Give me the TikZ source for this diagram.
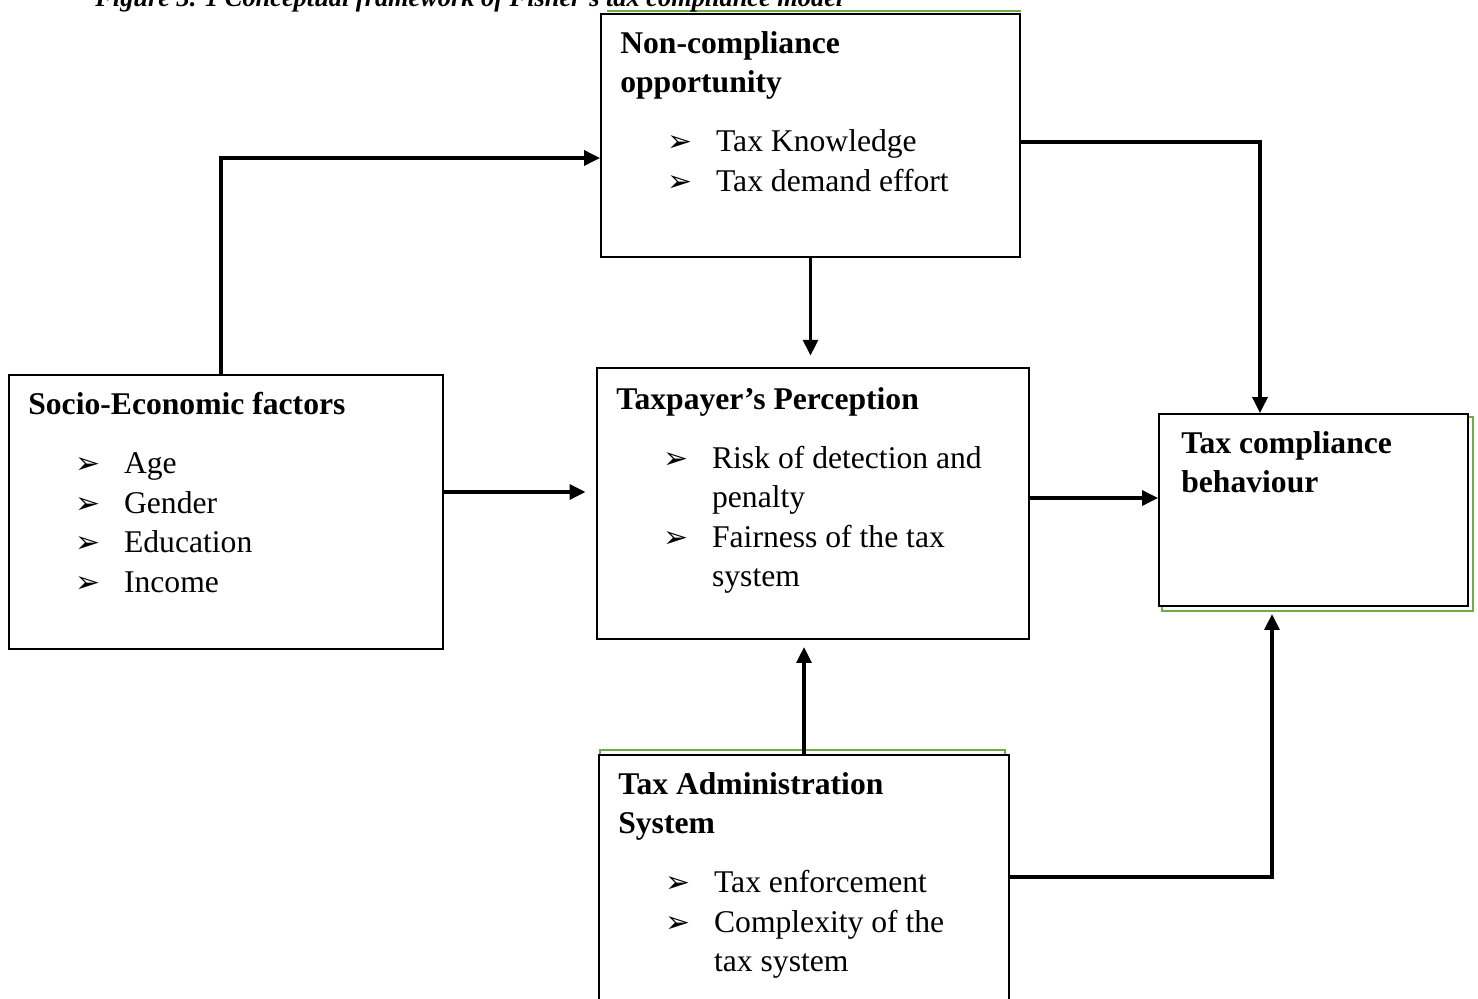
\documentclass[tikz,border=0pt]{standalone}
\usepackage{fontspec}
\setmainfont{Liberation Serif}
\newfontfamily\fcsym{DejaVu Sans}
\usetikzlibrary{arrows.meta,backgrounds}
\definecolor{fcgreen}{RGB}{112,173,71}
\newcommand\fcbul{{\fcsym\fontsize{17}{17}\selectfont ➢}}
\newcommand\fcitem[1]{\hspace*{27pt}\makebox[27.5pt][l]{\fcbul}#1}
\newcommand\fccont[1]{\hspace*{54.5pt}#1}
\tikzset{
  fcbox/.style={draw=black, line width=1.2pt, fill=white, inner sep=0pt, anchor=north west},
  fctext/.style={font=\fontsize{18}{22.5}\selectfont, align=left, inner sep=0pt,
    anchor=north west, xshift=0.4cm, yshift=-0.36cm},
  fcarrow/.style={-{Triangle[length=9pt,width=8.5pt]}, line width=1.8pt, draw=black},
  fcshadow/.style={draw=fcgreen, line width=1.2pt}
}
\begin{document}
\begin{tikzpicture}[x=0.02cm, y=-0.02cm]
  \useasboundingbox (0,0) rectangle (1478,998);
  \clip (0,0) rectangle (1478,998);
  \node[font=\fontsize{15}{18}\selectfont\bfseries\itshape, anchor=base west, inner sep=0pt] (title) at (95,6) {Figure 3. 1 Conceptual framework of Fisher’s tax compliance model};
  \node[fcbox, minimum width=8.68cm, minimum height=5.48cm] (se) at (8,374) {};
  \node[fcbox, minimum width=8.38cm, minimum height=4.86cm] (nc) at (600,13) {};
  \node[fcbox, minimum width=8.64cm, minimum height=5.42cm] (tp) at (596,367) {};
  \node[fcbox, minimum width=6.18cm, minimum height=3.84cm] (tc) at (1158,413) {};
  \node[fcbox, minimum width=8.2cm, minimum height=5.2cm] (ta) at (598,754) {};
  \node[fctext] (setext) at (se.north west) {\textbf{Socio-Economic factors}\\[11pt]
    \fcitem{Age}\\ \fcitem{Gender}\\ \fcitem{Education}\\ \fcitem{Income}};
  \node[fctext] (nctext) at (nc.north west) {\textbf{Non-compliance}\\ \textbf{opportunity}\\[11pt]
    \fcitem{Tax Knowledge}\\ \fcitem{Tax demand effort}};
  \node[fctext, yshift=-0.04cm] (tptext) at (tp.north west) {\textbf{Taxpayer’s Perception}\\[11pt]
    \fcitem{Risk of detection and}\\ \fccont{penalty}\\ \fcitem{Fairness of the tax}\\ \fccont{system}};
  \node[fctext, xshift=0.06cm] (tctext) at (tc.north west) {\textbf{Tax compliance}\\ \textbf{behaviour}};
  \node[fctext] (tatext) at (ta.north west) {\textbf{Tax Administration}\\ \textbf{System}\\[11pt]
    \fcitem{Tax enforcement}\\ \fcitem{Complexity of the}\\ \fccont{tax system}};
  \coordinate (k1) at (221,158);
  \coordinate (k2) at (1260,142);
  \coordinate (k4) at (0,492);
  \coordinate (k5) at (0,498);
  \coordinate (k7) at (1272,877);
  \draw[fcarrow] (se.north -| k1) |- (nc.west |- k1);
  \draw[fcarrow] (nc.east |- k2) -| (tc.north -| k2);
  \draw[fcarrow, shorten >=6.5pt] (nc.south) -- (nc.south |- tp.north);
  \draw[fcarrow, shorten >=6pt] (se.east |- k4) -- (tp.west |- k4);
  \draw[fcarrow] (tp.east |- k5) -- (tc.west |- k5);
  \draw[fcarrow, shorten >=4pt] (ta.north) -- (ta.north |- tp.south);
  \draw[fcarrow, shorten >=4pt] (ta.east |- k7) -| (tc.south -| k7);
  \begin{scope}[on background layer]
    \draw[fcshadow] ([xshift=0.14cm,yshift=0.04cm]nc.north west) -- ([yshift=0.04cm]nc.north east);
    \draw[fcshadow] ([xshift=0.08cm,yshift=-0.08cm]tc.north west) rectangle ([xshift=0.08cm,yshift=-0.08cm]tc.south east);
    \draw[fcshadow] ([xshift=0.04cm]ta.south west) |- ([xshift=-0.1cm,yshift=0.08cm]ta.north east) -- ([xshift=-0.1cm]ta.north east);
  \end{scope}
\end{tikzpicture}
\end{document}
